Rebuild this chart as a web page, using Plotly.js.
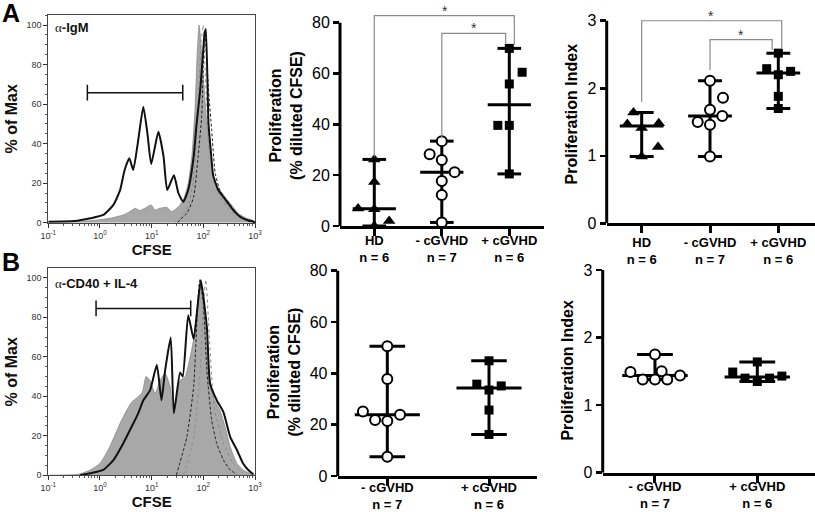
<!DOCTYPE html>
<html><head><meta charset="utf-8">
<script src="https://cdn.plot.ly/plotly-3.0.1.min.js"></script>
<style>html,body{margin:0;padding:0;background:#fff}#chart{width:815px;height:512px}</style>
</head><body><div id="chart"></div>
<script>
// ---------- Histogram data: CFSE intensity vs % of Max ----------
// Panel A (alpha-IgM)
const igmStimX   = [0.1,0.32,0.65,1.16,1.82,2.45,3.0,3.7,4.4,5.5,6.9,8.3,9.8,13.5,17,20,27,33,41,51,65,74,87,100,105,112,126,141,155,195,245,302,380,513,692,933,1000];
const igmStimY   = [0.5,0.8,2.2,3.9,9,16.5,26.7,32.6,26.7,41.8,58.7,45,29.7,46,33.4,16.5,24,14.9,10.6,16.5,33.4,50,67,88,95,98,50,35,24,16.5,13,9.8,6.4,3,1.4,0.5,0];
const igmCtrlX   = [0.1,0.65,1.55,2.8,3.8,4.8,5.9,7.4,9.8,11.7,14.5,19.5,24.5,33,41,51,60,69,76,83,93,117,135,170,229,331,479,692,933,1000];
const igmCtrlY   = [0.3,1,2.2,3.9,5.6,7.3,6.1,7.3,9,6.4,7.3,7.8,5.6,8.1,11.5,20,33.4,57,85,100,85,50,33.4,20,14.9,9.8,4.7,2.2,1,0.5];
const igmUnstAX  = [32,35,48,65,79,93,100,107,126,145,170,209,282,447,692,1000];
const igmUnstAY  = [0,1.4,4.7,13,33,54,80,97,67,47,25,16.5,11.5,4.7,1,0];
const igmUnstBX  = [28,35,50,63,76,91,100,107,126,158,224,316,501,794];
const igmUnstBY  = [0,2,8,20,50,92,100,80,45,22,12,7,3,0.5];
// Panel B (alpha-CD40 + IL-4)
const cd40StimX  = [0.41,0.65,1.15,1.82,2.8,4.1,5.5,6.9,9.3,12.6,15.5,18.2,23.4,26.9,35.5,40,51,65,89,117,135,182,245,331,447,589,741,933];
const cd40StimY  = [0,1,2.7,7.7,16,24.6,31.4,38,43,55.8,38,53,69.8,31.4,52,50,81,69,98.8,75,46.5,38,32,19.5,12.8,6,2.7,0.5];
const cd40CtrlX  = [0.1,0.3,0.41,0.65,1.0,1.55,2.45,3.3,4.1,5.5,6.6,7.8,9.3,11.7,14.5,18.2,22.9,26.3,35.5,44.7,53.7,64.6,75.9,87.1,107,126,155,209,263,331,447,589,794,1000];
const cd40CtrlY  = [0,0.3,0.7,2.7,6,14.5,26.3,33,37,39.8,42,50,48,41.5,48,51.6,44.8,31.4,48,50,58,68.5,85,97,78.6,53,39.8,33,24.6,14.5,6,2.7,1,0];
const cd40UnstAX = [30,48,65,78,85,100,117,145,182,245,331,447];
const cd40UnstAY = [0,19.5,45,87,99,87,53,28,16,7.7,2.7,0.5];
const cd40UnstBX = [32,41,65,87,100,112,126,145,166,245,380,589];
const cd40UnstBY = [0,0.5,19.5,53,87,99,78,50,33,16,6,1];
// gates (CFSE range, height)
const igmGate  = [0.57, 40, 65.8];
const cd40Gate = [0.84, 57, 84.5];

// ---------- Scatter data ----------
const catsA = ['HD<br>n = 6', '- cGVHD<br>n = 7', '+ cGVHD<br>n = 6'];
const catsB = ['- cGVHD<br>n = 7', '+ cGVHD<br>n = 6'];
// A: % diluted CFSE
const aPctHD    = [26.2, 17.3, 6.9, 6.6, 2.0, 0.0];
const aPctHDj   = [0, 0, -0.24, 0, 0.22, 0];
const aPctNeg   = [33.4, 28.2, 26.0, 21.2, 17.7, 12.2, 1.4];
const aPctNegj  = [0, -0.18, 0, 0.19, 0, 0, 0];
const aPctPos   = [69.9, 60.5, 55.9, 39.6, 39.6, 20.5];
const aPctPosj  = [0, 0.19, 0, -0.17, 0, 0];
// A: proliferation index
const aIdxHD    = [1.64, 1.47, 1.41, 1.48, 1.13, 0.99];
const aIdxHDj   = [-0.12, -0.21, 0, 0.25, 0.24, 0];
const aIdxNeg   = [2.11, 1.86, 1.68, 1.59, 1.50, 1.46, 0.99];
const aIdxNegj  = [0, 0.19, 0, 0.18, -0.18, 0, 0];
const aIdxPos   = [2.52, 2.29, 2.20, 2.25, 1.88, 1.70];
const aIdxPosj  = [0, -0.17, 0, 0.18, 0, 0];
// B: % diluted CFSE
const bPctNeg   = [50.6, 37.8, 25.1, 21.8, 21.4, 23.9, 7.5];
const bPctNegj  = [0, 0, -0.24, -0.12, 0, 0.125, 0];
const bPctPos   = [44.9, 35.8, 35.1, 33.5, 25.7, 16.2];
const bPctPosj  = [0, -0.12, 0.12, 0, 0, 0];
// B: proliferation index
const bIdxNeg   = [1.75, 1.49, 1.50, 1.44, 1.38, 1.38, 1.38];
const bIdxNegj  = [0, -0.24, 0.065, 0.245, -0.12, 0, 0.12];
const bIdxPos   = [1.64, 1.49, 1.40, 1.35, 1.40, 1.43];
const bIdxPosj  = [0, -0.24, -0.12, 0, 0.12, 0.24];

// ---------- helpers ----------
const FONT = 'Liberation Sans, Arial, Helvetica, sans-serif';
const W = 815, H = 512;
const dx = (a, b) => [a / W, b / W];
const dy = (top, bottom) => [1 - bottom / H, 1 - top / H];

function median(a) {
  const s = [...a].sort((p, q) => p - q), n = s.length;
  return n % 2 ? s[(n - 1) / 2] : (s[n / 2 - 1] + s[n / 2]) / 2;
}
const MED_HW = 0.32, CAP_HW = 0.175;

const traces = [];
function histTraces(xa, ya, ctrlX, ctrlY, uaX, uaY, ubX, ubY, stX, stY) {
  traces.push({x: ctrlX, y: ctrlY, xaxis: xa, yaxis: ya, type: 'scatter', mode: 'lines',
    fill: 'tozeroy', fillcolor: '#a8a8a8', line: {color: '#8a8a8a', width: 0.8, shape: 'spline', smoothing: 0.5}, hoverinfo: 'skip'});
  traces.push({x: ubX, y: ubY, xaxis: xa, yaxis: ya, type: 'scatter', mode: 'lines',
    line: {color: '#8c8c8c', width: 1, dash: 'dot', shape: 'spline', smoothing: 0.5}, hoverinfo: 'skip'});
  traces.push({x: uaX, y: uaY, xaxis: xa, yaxis: ya, type: 'scatter', mode: 'lines',
    line: {color: '#222', width: 1, dash: '3px,2px', shape: 'spline', smoothing: 0.5}, hoverinfo: 'skip'});
  traces.push({x: stX, y: stY, xaxis: xa, yaxis: ya, type: 'scatter', mode: 'lines',
    line: {color: '#111', width: 2, shape: 'spline', smoothing: 0.5}, hoverinfo: 'skip'});
}
function gateShapes(xa, ya, g) {
  const [a, b, h] = g, t = 4;
  return [
    {type: 'line', xref: xa, yref: ya, x0: a, x1: b, y0: h, y1: h, line: {color: '#111', width: 1.5}},
    {type: 'line', xref: xa, yref: ya, x0: a, x1: a, y0: h - t, y1: h + t, line: {color: '#111', width: 1.5}},
    {type: 'line', xref: xa, yref: ya, x0: b, x1: b, y0: h - t, y1: h + t, line: {color: '#111', width: 1.5}}
  ];
}
const SYMS = {
  tri: {symbol: 'triangle-up', size: 11, color: '#000', line: {width: 0}},
  circ: {symbol: 'circle', size: 10, color: '#fff', line: {color: '#000', width: 2}},
  sq: {symbol: 'square', size: 9, color: '#000', line: {width: 0}}
};
function scatterPanel(xa, ya, groups) {
  const lx = [], ly = [];
  groups.forEach((g, i) => {
    const m = median(g.v), mn = Math.min(...g.v), mx = Math.max(...g.v);
    lx.push(i - MED_HW, i + MED_HW, null, i, i, null, i - CAP_HW, i + CAP_HW, null, i - CAP_HW, i + CAP_HW, null);
    ly.push(m, m, null, mn, mx, null, mx, mx, null, mn, mn, null);
  });
  traces.push({x: lx, y: ly, xaxis: xa, yaxis: ya, type: 'scatter', mode: 'lines',
    line: {color: '#000', width: 3}, cliponaxis: false, hoverinfo: 'skip'});
  groups.forEach((g, i) => {
    traces.push({x: g.v.map((_, k) => i + g.j[k]), y: g.v, xaxis: xa, yaxis: ya, type: 'scatter',
      mode: 'markers', marker: SYMS[g.s], cliponaxis: false, hoverinfo: 'skip'});
  });
}

histTraces('x', 'y', igmCtrlX, igmCtrlY, igmUnstAX, igmUnstAY, igmUnstBX, igmUnstBY, igmStimX, igmStimY);
histTraces('x4', 'y4', cd40CtrlX, cd40CtrlY, cd40UnstAX, cd40UnstAY, cd40UnstBX, cd40UnstBY, cd40StimX, cd40StimY);
scatterPanel('x2', 'y2', [{v: aPctHD, j: aPctHDj, s: 'tri'}, {v: aPctNeg, j: aPctNegj, s: 'circ'}, {v: aPctPos, j: aPctPosj, s: 'sq'}]);
scatterPanel('x3', 'y3', [{v: aIdxHD, j: aIdxHDj, s: 'tri'}, {v: aIdxNeg, j: aIdxNegj, s: 'circ'}, {v: aIdxPos, j: aIdxPosj, s: 'sq'}]);
scatterPanel('x5', 'y5', [{v: bPctNeg, j: bPctNegj, s: 'circ'}, {v: bPctPos, j: bPctPosj, s: 'sq'}]);
scatterPanel('x6', 'y6', [{v: bIdxNeg, j: bIdxNegj, s: 'circ'}, {v: bIdxPos, j: bIdxPosj, s: 'sq'}]);

// ---------- axes ----------
const minorLog = [];
[0.1, 1, 10, 100].forEach(d => { for (let k = 2; k <= 9; k++) minorLog.push(d * k); });
function histX(domain, anchor) {
  return {domain, anchor, type: 'log', range: [-1, 3], tickvals: [0.1, 1, 10, 100, 1000],
    ticktext: ['10<sup>-1</sup>', '10<sup>0</sup>', '10<sup>1</sup>', '10<sup>2</sup>', '10<sup>3</sup>'],
    ticks: 'outside', ticklen: 4, tickwidth: 1, tickcolor: '#333',
    minor: {tickmode: 'array', tickvals: minorLog, ticks: 'outside', ticklen: 2, tickcolor: '#555', tickwidth: 1, showgrid: false},
    showline: true, mirror: true, linecolor: '#444', linewidth: 1, showgrid: false, zeroline: false,
    tickfont: {size: 9, color: '#333', family: FONT},
    title: {text: '<b>CFSE</b>', font: {size: 15, color: '#111', family: FONT}, standoff: 2}};
}
function histY(domain, anchor, top) {
  return {domain, anchor, range: [0, top], tickvals: [0, 20, 40, 60, 80, 100],
    ticks: 'outside', ticklen: 4, tickwidth: 1, tickcolor: '#333',
    minor: {dtick: 5, ticks: 'outside', ticklen: 2, tickcolor: '#555', showgrid: false},
    showline: true, mirror: true, linecolor: '#444', linewidth: 1, showgrid: false, zeroline: false,
    tickfont: {size: 9, color: '#333', family: FONT},
    title: {text: '<b>% of Max</b>', font: {size: 16, color: '#111', family: FONT}, standoff: 4}};
}
function scatX(domain, anchor, range, cats, standoff) {
  return {domain, anchor, range, tickvals: cats.map((_, i) => i), ticktext: cats.map(c => '<b>' + c.replace('<br>', '</b><br><b>') + '</b>'),
    ticks: 'outside', ticklen: 7, tickwidth: 3, tickcolor: '#000', ticklabelstandoff: standoff,
    showline: true, linewidth: 3, linecolor: '#000', showgrid: false, zeroline: false,
    tickfont: {size: 13, color: '#000', family: FONT}};
}
function scatY(domain, anchor, range, tv, title) {
  return {domain, anchor, range, tickvals: tv, ticks: 'outside', ticklen: 6, tickwidth: 2.5, tickcolor: '#000',
    showline: false, showgrid: false, zeroline: false,
    tickfont: {size: 16, color: '#000', family: FONT},
    title: {text: title, font: {size: 16, color: '#000', family: FONT}, standoff: 5}};
}
const pctTitle = '<b>Proliferation</b><br><b>(% diluted CFSE)</b>';
const idxTitle = '<b>Proliferation Index</b>';

const yAxisLine = (xa, ya, top) => ({type: 'line', xref: xa + ' domain', yref: ya, x0: 0, x1: 0, y0: 0, y1: top, line: {color: '#000', width: 3}});
const bracket = (xa, ya, pts) => ({type: 'path', xref: xa, yref: ya,
  path: 'M' + pts.map(p => p[0] + ',' + p[1]).join(' L'), line: {color: '#8a8a8a', width: 1.2}});

const shapes = [
  ...gateShapes('x', 'y', igmGate),
  ...gateShapes('x4', 'y4', cd40Gate),
  yAxisLine('x2', 'y2', 80), yAxisLine('x3', 'y3', 3), yAxisLine('x5', 'y5', 80), yAxisLine('x6', 'y6', 3),
  bracket('x2', 'y2', [[0, 27.3], [0, 82.75], [2.074, 82.75], [2.074, 71.2]]),
  bracket('x2', 'y2', [[1, 34.5], [1, 75.8], [1.947, 75.8], [1.947, 71.9]]),
  bracket('x3', 'y3', [[0, 1.80], [0, 3.0], [2.05, 3.0], [2.05, 2.59]]),
  bracket('x3', 'y3', [[1, 2.27], [1, 2.72], [1.91, 2.72], [1.91, 2.57]])
];

const star = (xa, ya, x, y) => ({xref: xa, yref: ya, x, y, text: '*', showarrow: false, yanchor: 'bottom', yshift: -5,
  font: {size: 14, color: '#333', family: FONT}});
const annotations = [
  {xref: 'paper', yref: 'paper', x: 0, y: 1, xanchor: 'left', yanchor: 'top', yshift: 3, text: '<b>A</b>', showarrow: false, font: {size: 25, color: '#000', family: FONT}},
  {xref: 'paper', yref: 'paper', x: 0, y: 1 - 250 / H, xanchor: 'left', yanchor: 'top', yshift: 4, text: '<b>B</b>', showarrow: false, font: {size: 25, color: '#000', family: FONT}},
  {xref: 'paper', yref: 'paper', x: 53 / W, y: 1 - 27 / H, xanchor: 'left', yanchor: 'middle', showarrow: false,
    text: '<span style="font-family:Liberation Serif,Times New Roman,serif">α</span><b>-IgM</b>', font: {size: 13, color: '#111', family: FONT}},
  {xref: 'paper', yref: 'paper', x: 53 / W, y: 1 - 283 / H, xanchor: 'left', yanchor: 'middle', showarrow: false,
    text: '<span style="font-family:Liberation Serif,Times New Roman,serif">α</span><b>-CD40 + IL-4</b>', font: {size: 13, color: '#111', family: FONT}},
  star('x2', 'y2', 1.04, 82.75), star('x2', 'y2', 1.47, 75.8),
  star('x3', 'y3', 1.02, 3.0), star('x3', 'y3', 1.46, 2.72)
];

const layout = {
  width: W, height: H, margin: {l: 0, r: 0, t: 0, b: 0},
  paper_bgcolor: '#fff', plot_bgcolor: 'rgba(0,0,0,0)', showlegend: false,
  font: {family: FONT, color: '#000'},
  xaxis: histX(dx(48.3, 255), 'y'),
  yaxis: histY(dy(15, 222.7), 'x', 105.1),
  xaxis4: histX(dx(48.3, 255), 'y4'),
  yaxis4: histY(dy(268.3, 475.3), 'x4', 104.8),
  xaxis2: scatX(dx(340, 544), 'y2', [-0.508, 2.514], catsA, -7),
  yaxis2: scatY(dy(5, 226), 'x2', [0, 86.97], [0, 20, 40, 60, 80], pctTitle),
  xaxis3: scatX(dx(606.7, 815), 'y3', [-0.512, 2.537], catsA, -2),
  yaxis3: scatY(dy(5, 223.3), 'x3', [0, 3.233], [0, 1, 2, 3], idxTitle),
  xaxis5: scatX(dx(337.7, 537), 'y5', [-0.488, 1.472], catsB, -10),
  yaxis5: scatY(dy(268, 476), 'x5', [0, 81.06], [0, 20, 40, 60, 80], pctTitle),
  xaxis6: scatX(dx(602.7, 815), 'y6', [-0.511, 1.564], catsB, -7),
  yaxis6: scatY(dy(268, 472.7), 'x6', [0, 3.03], [0, 1, 2, 3], idxTitle),
  shapes, annotations
};

Plotly.newPlot('chart', traces, layout, {displayModeBar: false, staticPlot: true});
</script>
</body></html>
